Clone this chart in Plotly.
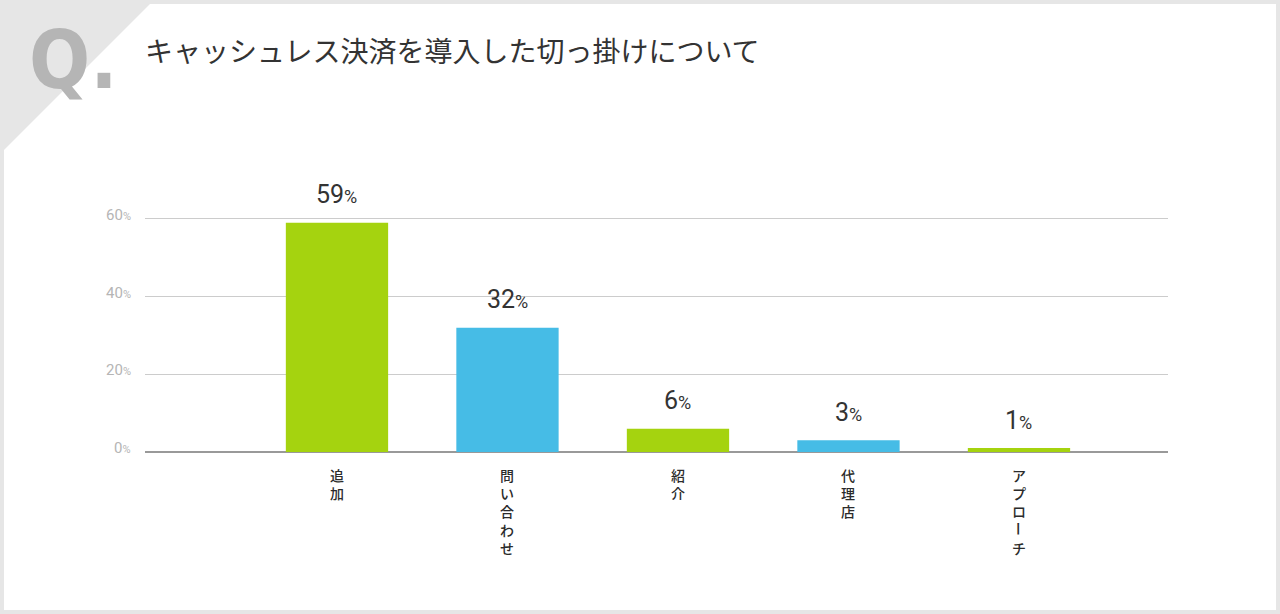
import plotly.graph_objects as go

title = "キャッシュレス決済を導入した切っ掛けについて"
categories = ["追加", "問い合わせ", "紹介", "代理店", "アプローチ"]
values = [59, 32, 6, 3, 1]
bar_colors = ["#a5d30f", "#46bce6", "#a5d30f", "#46bce6", "#a5d30f"]
y_ticks = [0, 20, 40, 60]

W, H = 1280, 614
ML, MR, MT, MB = 145, 112, 215, 162

def px2paper(px, py):
    return (px - ML) / (W - ML - MR), (H - MB - py) / (H - MT - MB)

fig = go.Figure()
fig.add_trace(go.Bar(
    x=list(range(len(categories))), y=values,
    marker=dict(color=bar_colors, line=dict(width=0)),
    width=0.6, hoverinfo="skip", showlegend=False,
))

# background panel with cut corner
pts = [(150, 4), (1276, 4), (1276, 610), (4, 610), (4, 150)]
pp = [px2paper(x, y) for x, y in pts]
path = "M " + " L ".join(f"{x},{y}" for x, y in pp) + " Z"
shapes = [dict(type="path", xref="paper", yref="paper", path=path,
               fillcolor="#ffffff", line=dict(width=0), layer="below")]

ann = []
# Q.
qx, qy = px2paper(27, 60)
ann.append(dict(xref="paper", yref="paper", x=qx, y=qy, xanchor="left", yanchor="middle",
                text="Q.", showarrow=False,
                font=dict(family="DejaVu Sans Condensed", size=80, color="#b5b5b5", weight="bold")))
# title
tx, ty = px2paper(143, 50)
ann.append(dict(xref="paper", yref="paper", x=tx, y=ty, xanchor="left", yanchor="middle",
                text=title, showarrow=False,
                font=dict(family="Noto Sans CJK JP", size=28, color="#333333")))
# y tick labels
for v in y_ticks:
    ann.append(dict(xref="paper", yref="y", x=0, y=v, xanchor="right", yanchor="middle",
                    xshift=-12, yshift=4, showarrow=False,
                    text=f"{v}<span style='font-size:11px'>%</span>",
                    font=dict(family="Roboto", size=15, color="#b5b5b5")))
# value labels
for i, v in enumerate(values):
    ann.append(dict(xref="x", yref="y", x=i, y=v, xanchor="center", yanchor="middle",
                    yshift=28, showarrow=False,
                    text=f"{v}<span style='font-size:18px'>%</span>",
                    font=dict(family="Roboto", size=25, color="#333333")))
# vertical category labels (long-vowel mark rotated as in vertical writing)
LF = 14
PITCH = LF * 1.3
lab_font = dict(family="Noto Sans CJK JP", size=LF, color="#2b2b2b", weight=500)
for i, c in enumerate(categories):
    segs, cur, start = [], "", 0
    for j, ch in enumerate(c):
        if ch == "ー":
            if cur:
                segs.append((start, cur))
            segs.append((j, ch))
            cur, start = "", j + 1
        else:
            if not cur:
                start = j
            cur += ch
    if cur:
        segs.append((start, cur))
    for s, txt in segs:
        if txt == "ー":
            ann.append(dict(xref="x", yref="y", x=i, y=0, xanchor="center", yanchor="middle",
                            yshift=-12 - PITCH * s - PITCH / 2 - 1, showarrow=False, text=txt,
                            textangle=90, font=lab_font))
        else:
            ann.append(dict(xref="x", yref="y", x=i, y=0, xanchor="center", yanchor="top",
                            yshift=-11 - PITCH * s, showarrow=False,
                            text="<br>".join(txt), font=lab_font))

fig.update_layout(
    width=W, height=H,
    margin=dict(l=ML, r=MR, t=MT, b=MB, pad=0),
    paper_bgcolor="#e6e6e6", plot_bgcolor="rgba(0,0,0,0)",
    shapes=shapes, annotations=ann,
    xaxis=dict(range=[-1.126, 4.874], showticklabels=False, showgrid=False,
               zeroline=False, showline=False, fixedrange=True),
    yaxis=dict(range=[0, 61], tickvals=y_ticks, showticklabels=False,
               showgrid=True, gridcolor="#cccccc", gridwidth=1,
               zeroline=True, zerolinecolor="#999999", zerolinewidth=2,
               showline=False, fixedrange=True),
    bargap=0.4,
)
fig.write_html("out.html", config={"displayModeBar": False})
